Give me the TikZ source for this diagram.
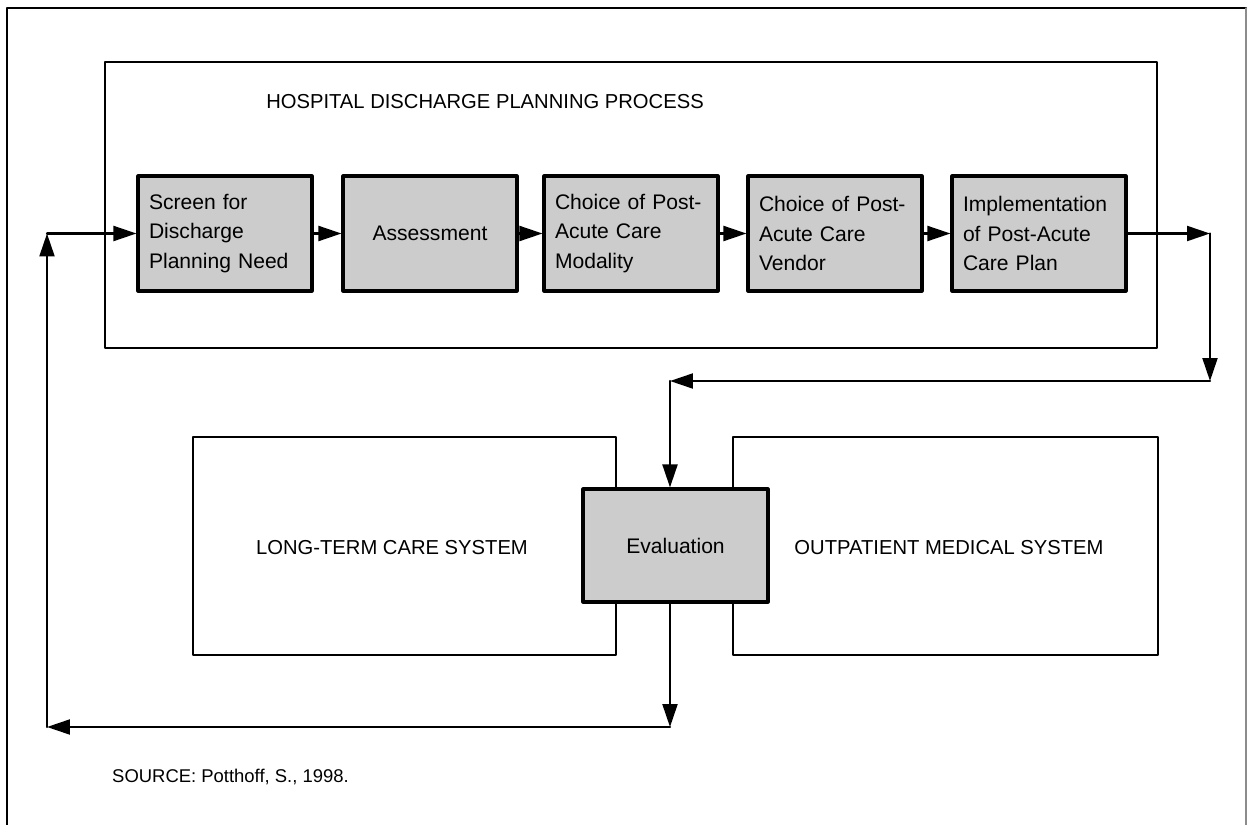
\documentclass[tikz,border=0pt]{standalone}
\usepackage{fontspec}
\setmainfont{Liberation Sans}
\usetikzlibrary{arrows.meta}
\definecolor{shade}{gray}{0.80}
\tikzset{
    stepbox/.style = {draw, line width=1.8pt, fill=shade, minimum height=2.3cm,
        text width=3.04cm, inner xsep=0.22cm, align=left,
        font=\fontsize{12}{16.8}\selectfont},
    sysbox/.style = {draw, line width=1.2pt},
    flow/.style = {line width=1.2pt, -{Triangle[length=0.46cm,width=0.3cm]}},
    label/.style = {font=\fontsize{11.5}{14}\selectfont}
}

\begin{document}
\begin{tikzpicture}[x=0.02cm, y=-0.02cm, line cap=round, line join=round]
\useasboundingbox (0,0) rectangle (1249,825);
% frame
\draw [line width=1.2pt] (7,830) -- (7,8) -- (1246,8);
\draw [line width=0.6pt, black!45] (1246,8) -- (1246,830);
% containers
\draw [sysbox] (105,62) rectangle (1157,348);
\draw [sysbox] (193,437) rectangle (616,655);
\draw [sysbox] (733,437) rectangle (1158,655);
\node [label] (title) at (485,102) {HOSPITAL DISCHARGE PLANNING PROCESS};
\node [label] (ltc) at (392,548) {LONG-TERM CARE SYSTEM};
\node [label] (oms) at (949,548) {OUTPATIENT MEDICAL SYSTEM};
% steps
\node [stepbox] (screen) at (225,233.5) {Screen for\\Discharge\\Planning Need};
\node [stepbox, align=center] (assess) at (430,233.5) {Assessment};
\node [stepbox] (modality) at (631,233.5) {Choice of Post-\\Acute Care\\Modality};
\node [stepbox] (vendor) at (835,233.5) {Choice of Post-\\Acute Care\\Vendor};
\node [stepbox] (implement) at (1039,233.5) {Implementation\\of Post-Acute\\Care Plan};
\node [stepbox, text width=3.26cm, minimum height=2.26cm, align=center] (eval) at (675.5,545.5) {Evaluation};
% corners
\coordinate (r1) at (1210,233.5);
\coordinate (r2) at (1210,381);
\coordinate (r3) at (670,381);
\coordinate (b1) at (670,727);
\coordinate (b2) at (47,727);
\coordinate (b3) at (47,233.5);
% arrows
\draw [flow] (screen) -- (assess);
\draw [flow] (assess) -- (modality);
\draw [flow] (modality) -- (vendor);
\draw [flow] (vendor) -- (implement);
\draw [flow] (implement.east) -- (r1);
\draw [flow] (r1) -- (r2);
\draw [flow] (r2) -- (r3);
\draw [flow] (r3) -- (r3 |- eval.north);
\draw [flow] (b1 |- eval.south) -- (b1);
\draw [flow] (b1) -- (b2);
\draw [flow] (b2) -- (b3);
\draw [flow] (b3) -- (screen.west);
\node [anchor=west, font=\fontsize{10.5}{12}\selectfont] (source) at (106,777) {SOURCE: Potthoff, S., 1998.};
\end{tikzpicture}
\end{document}
